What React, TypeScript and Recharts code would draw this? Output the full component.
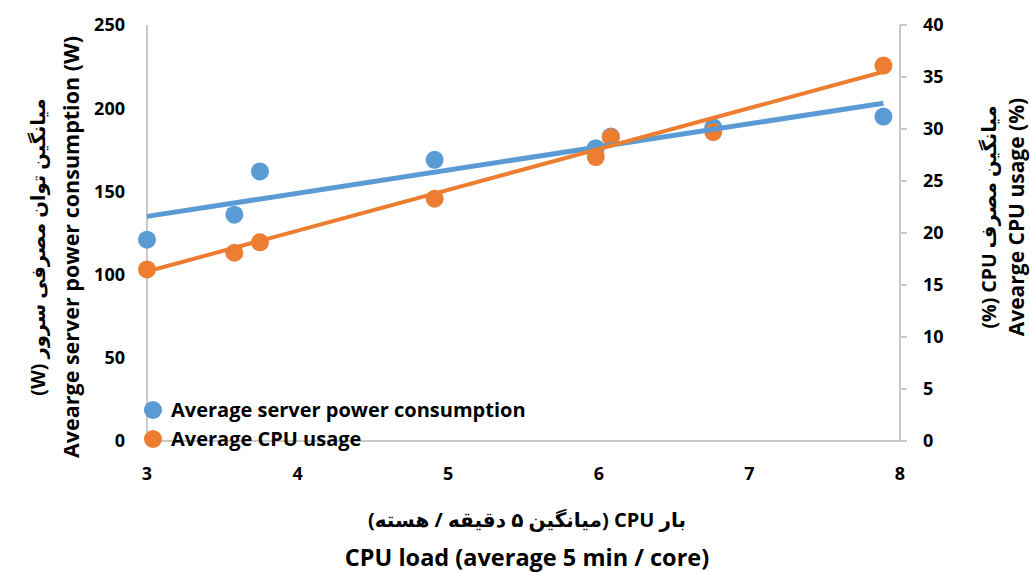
import { ScatterChart, Scatter, XAxis, YAxis, Legend } from 'recharts'

const BLUE = '#5B9BD5'
const ORANGE = '#ED7D31'
const AXIS_GREY = '#C9C9C9'
const FONT = '"Open Sans", "DejaVu Sans", sans-serif'

// readings
const loadValues = [3.0, 3.58, 3.75, 4.91, 5.98, 6.08, 6.76, 7.89]
const powerWatts = [121, 136, 162, 169, 176, 183, 188.5, 195]
const cpuUsagePct = [16.5, 18.1, 19.1, 23.3, 27.3, 29.2, 29.7, 36.1]

// linear trend lines (start / end)
const trendLoad = [3.0, 7.89]
const powerTrend = [135, 203]
const cpuTrend = [16.3, 35.5]

const xTicks = [3, 4, 5, 6, 7, 8]
const powerTicks = [0, 50, 100, 150, 200, 250]
const cpuTicks = [0, 5, 10, 15, 20, 25, 30, 35, 40]

const powerName = 'Average server power consumption'
const cpuName = 'Average CPU usage'
const legendOrder = [powerName, cpuName]

const powerData = loadValues.map((x, i) => ({ x, y: powerWatts[i] }))
const cpuData = loadValues.map((x, i) => ({ x, y: cpuUsagePct[i] }))
const powerTrendData = trendLoad.map((x, i) => ({ x, y: powerTrend[i] }))
const cpuTrendData = trendLoad.map((x, i) => ({ x, y: cpuTrend[i] }))

const tickStyle = { fontSize: 18, fontWeight: 700, fill: '#000', fontFamily: FONT }
const rtl = { direction: 'rtl' as const, unicodeBidi: 'embed' as const }

function dot(color: string) {
  return (p: any) => <circle cx={p.cx} cy={p.cy} r={9} fill={color} />
}

function noDot() {
  return <g />
}

function rotatedPair(x1: number, x2: number, cy: number, fa: string, en: string, enSize: number) {
  return (
    <g fontFamily={FONT} fontWeight={700} fill="#000">
      <text x={x1} y={cy} transform={`rotate(-90 ${x1} ${cy})`} textAnchor="middle"
        dominantBaseline="central" fontSize={19.5} style={rtl}>{fa}</text>
      <text x={x2} y={cy} transform={`rotate(-90 ${x2} ${cy})`} textAnchor="middle"
        dominantBaseline="central" fontSize={enSize}>{en}</text>
    </g>
  )
}

function LegendBox({ payload }: any) {
  const items = (payload || [])
    .filter((e: any) => legendOrder.includes(e.value))
    .sort((a: any, b: any) => legendOrder.indexOf(a.value) - legendOrder.indexOf(b.value))
  return (
    <div style={{ fontFamily: FONT, fontWeight: 700, fontSize: 20, color: '#000', lineHeight: 1 }}>
      {items.map((e: any) => (
        <div key={e.value} style={{ display: 'flex', alignItems: 'center', height: 29 }}>
          <span style={{ width: 18, height: 18, borderRadius: 9, background: e.color, marginRight: 9, flexShrink: 0 }} />
          <span style={{ whiteSpace: 'nowrap' }}>{e.value}</span>
        </div>
      ))}
    </div>
  )
}

export default function App() {
  return (
    <div style={{ position: 'absolute', left: 0, top: 0, width: 1030, height: 572, background: '#fff' }}>
      <ScatterChart width={1030} height={572} margin={{ top: 25, right: 0, bottom: 0, left: 0 }}>
        <XAxis
          type="number"
          dataKey="x"
          domain={[3, 8]}
          ticks={xTicks}
          height={131}
          axisLine={{ stroke: AXIS_GREY, strokeWidth: 2 }}
          tickLine={false}
          tickSize={0}
          tickMargin={26}
          tick={tickStyle}
          label={{
            content: () => (
              <g fontFamily={FONT} fontWeight={700} fill="#000" textAnchor="middle">
                <text x={527} y={519} dominantBaseline="central" fontSize={20} style={rtl}>
                  بار CPU (میانگین ۵ دقیقه / هسته)
                </text>
                <text x={527} y={557} dominantBaseline="central" fontSize={23.5}>
                  CPU load (average 5 min / core)
                </text>
              </g>
            ),
          }}
        />
        <YAxis
          yAxisId="power"
          type="number"
          dataKey="y"
          domain={[0, 250]}
          ticks={powerTicks}
          width={147}
          axisLine={{ stroke: AXIS_GREY, strokeWidth: 2 }}
          tickLine={false}
          tickSize={0}
          tickMargin={22}
          tick={tickStyle}
          label={{
            content: () => rotatedPair(37, 70, 247, 'میانگین توان مصرفی سرور (W)', 'Avearge server power consumption (W)', 21.5),
          }}
        />
        <YAxis
          yAxisId="cpu"
          orientation="right"
          type="number"
          dataKey="y"
          domain={[0, 40]}
          ticks={cpuTicks}
          width={130}
          axisLine={{ stroke: AXIS_GREY, strokeWidth: 2 }}
          tickLine={{ stroke: AXIS_GREY, strokeWidth: 2 }}
          tickSize={7}
          tickMargin={16}
          tick={{ ...tickStyle, textAnchor: 'start' }}
          label={{
            content: () => rotatedPair(988, 1016, 217, 'میانگین مصرف CPU (%)', 'Avearge CPU usage (%)', 21),
          }}
        />
        <Legend
          layout="horizontal"
          verticalAlign="middle"
          align="center"
          wrapperStyle={{ left: 144, top: 395, width: 'auto', height: 'auto' }}
          content={LegendBox}
        />
        <Scatter name={powerName} yAxisId="power" dataKey="y" data={powerData} fill={BLUE}
          shape={dot(BLUE)} legendType="circle" isAnimationActive={false} />
        <Scatter name={cpuName} yAxisId="cpu" dataKey="y" data={cpuData} fill={ORANGE}
          shape={dot(ORANGE)} legendType="circle" isAnimationActive={false} />
        <Scatter name="power trend" yAxisId="power" dataKey="y" data={powerTrendData} fill={BLUE}
          line={{ stroke: BLUE, strokeWidth: 5 }} shape={noDot} legendType="none" isAnimationActive={false} />
        <Scatter name="cpu trend" yAxisId="cpu" dataKey="y" data={cpuTrendData} fill={ORANGE}
          line={{ stroke: ORANGE, strokeWidth: 4 }} shape={noDot} legendType="none" isAnimationActive={false} />
      </ScatterChart>
    </div>
  )
}
